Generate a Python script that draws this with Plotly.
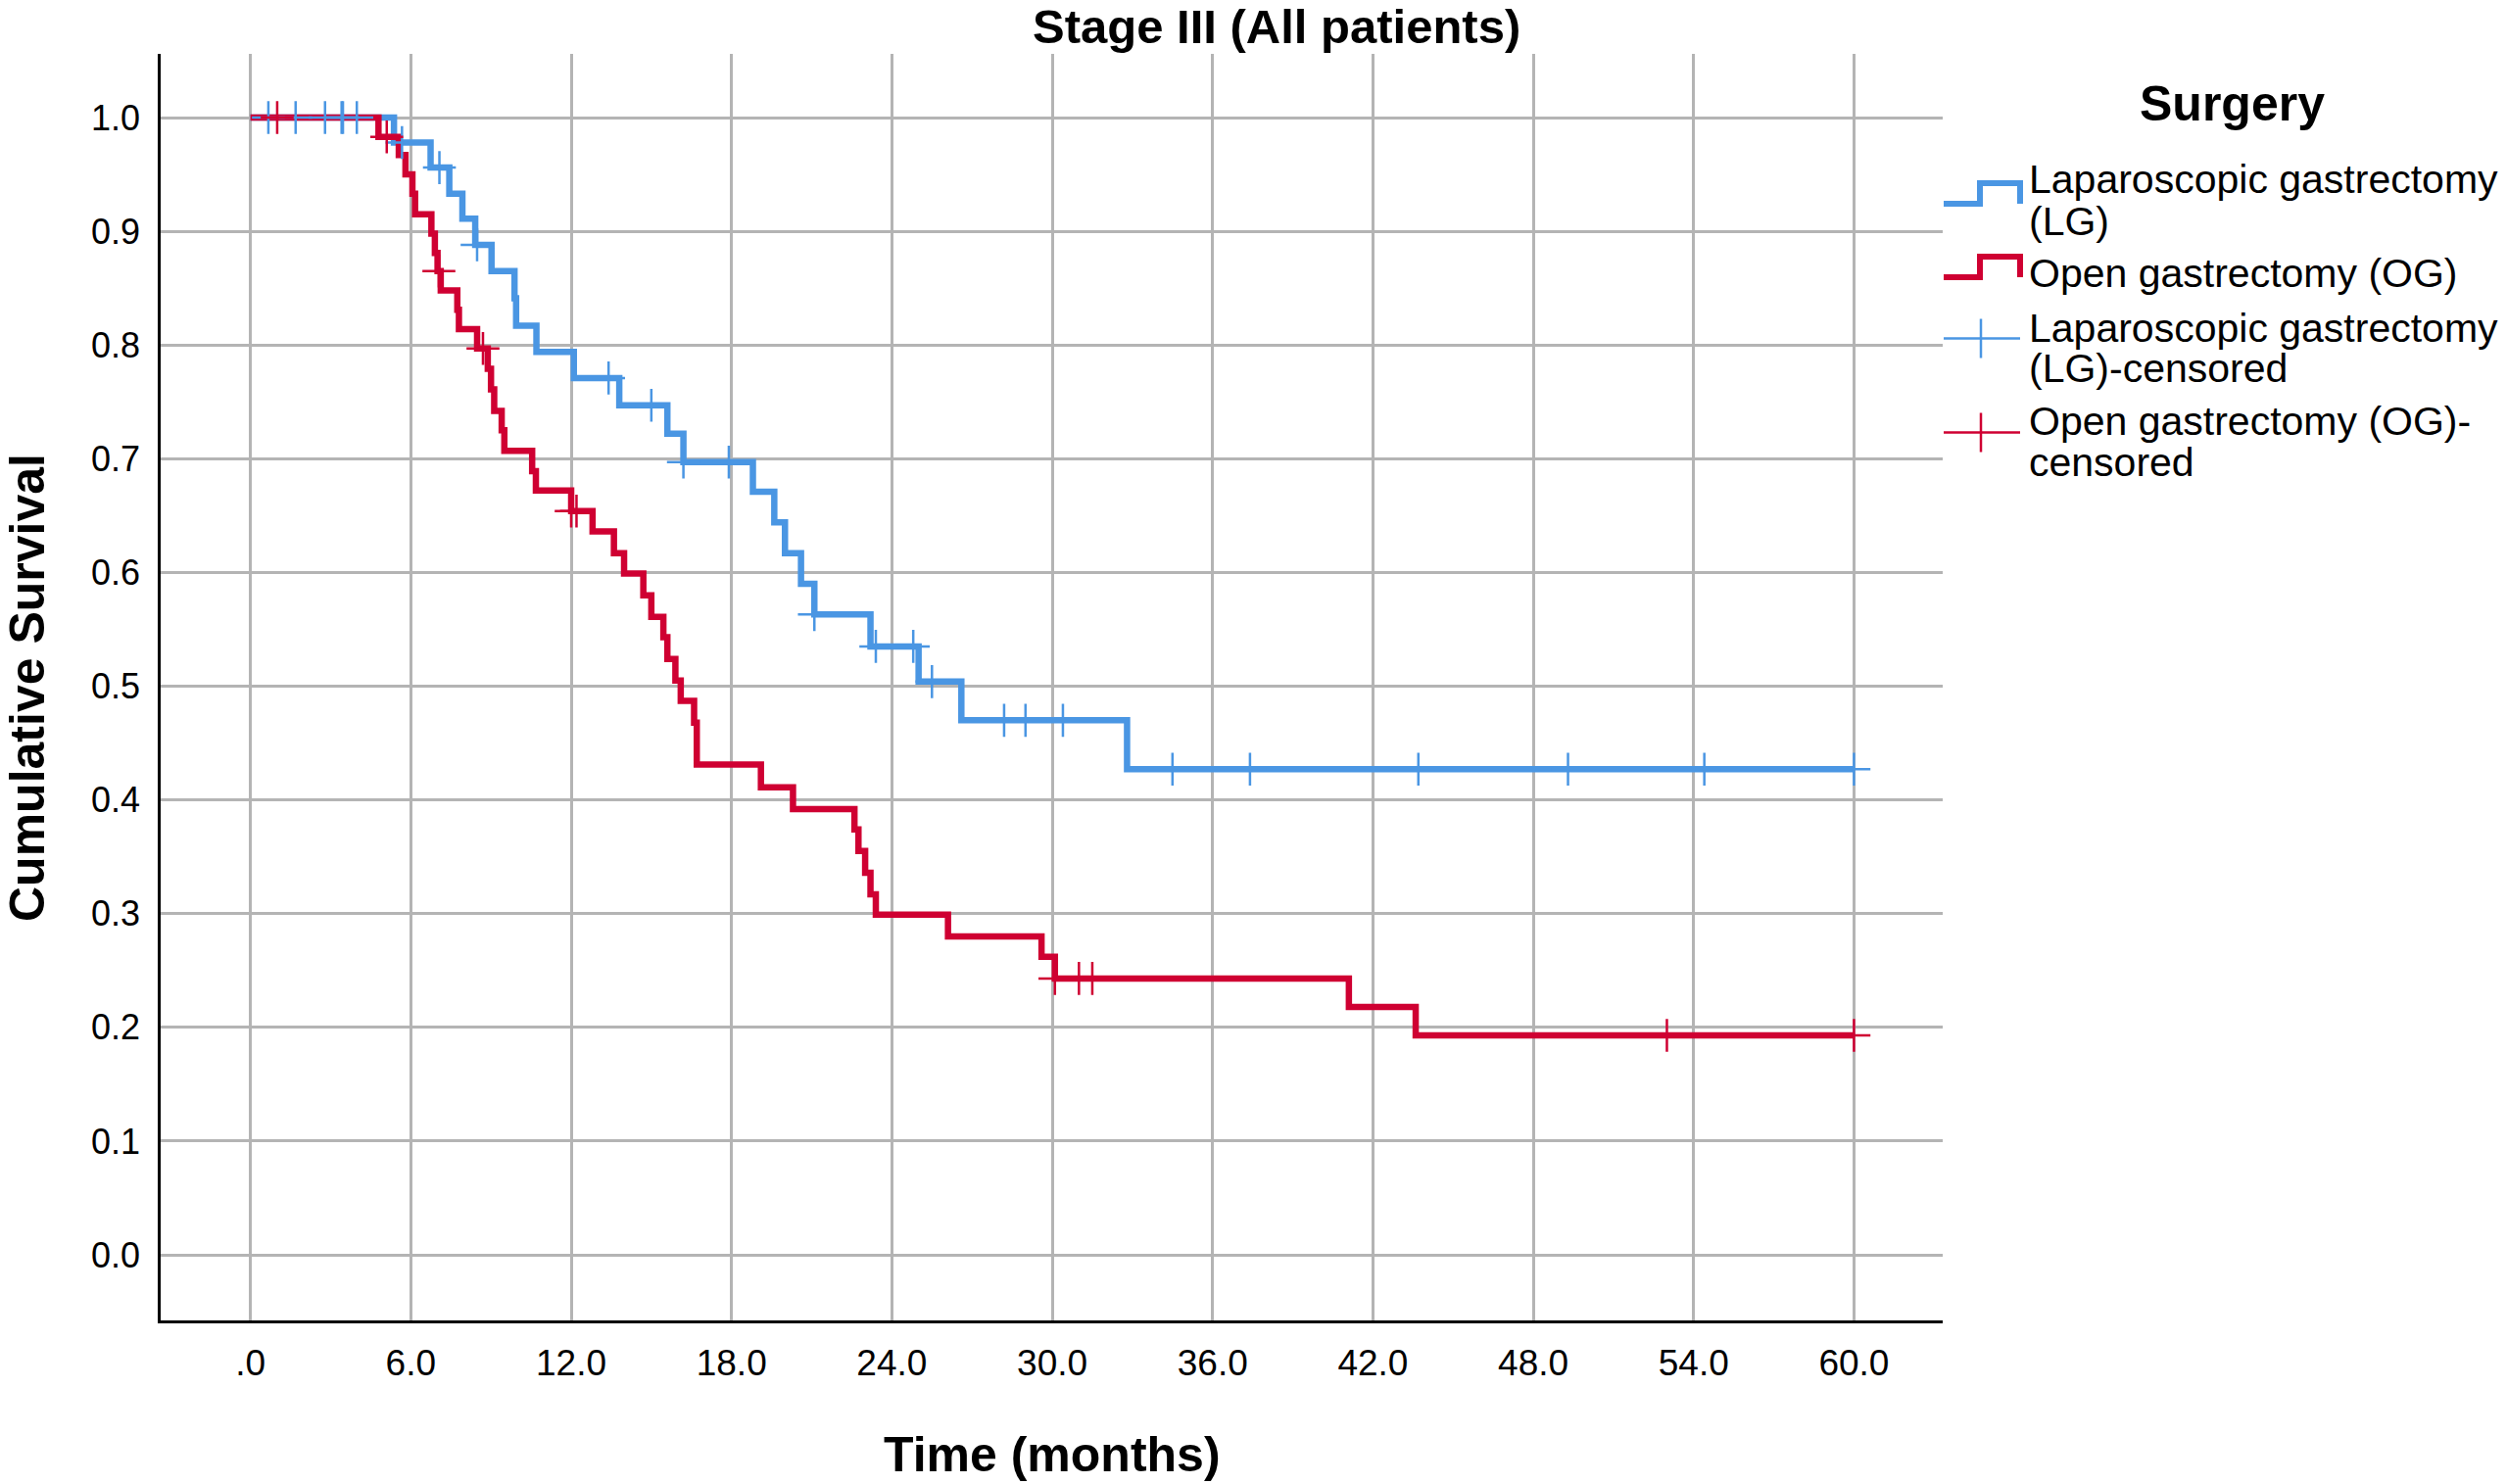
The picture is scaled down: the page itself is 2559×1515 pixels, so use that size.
import plotly.graph_objects as go

# ---------------- data ----------------
lg_time = [0.0, 5.37, 6.74, 7.44, 7.93, 8.41, 9.02, 9.88, 9.94, 10.7, 12.1, 13.8, 15.6, 16.2,
           18.8, 19.6, 20.0, 20.6, 21.1, 23.2, 25.0, 26.6, 32.8, 60.0]
lg_surv = [1.0, 0.978, 0.956, 0.933, 0.911, 0.888, 0.865, 0.841, 0.817, 0.794, 0.771, 0.747, 0.722, 0.697,
           0.671, 0.644, 0.617, 0.590, 0.563, 0.535, 0.504, 0.470, 0.427, 0.427]

og_time = [0.0, 4.79, 5.55, 5.80, 6.06, 6.16, 6.77, 6.90, 7.00, 7.12, 7.74, 7.80, 8.48, 8.88, 9.00,
           9.12, 9.40, 9.50, 10.54, 10.68, 12.0, 12.8, 13.6, 13.98, 14.7, 15.0, 15.45, 15.6, 15.9,
           16.1, 16.6, 16.7, 19.1, 20.3, 22.6, 22.75, 23.0, 23.2, 23.4, 26.1, 29.6, 30.1, 41.1, 43.6, 60.0]
og_surv = [1.0, 0.983, 0.967, 0.950, 0.933, 0.915, 0.898, 0.881, 0.865, 0.848, 0.831, 0.814, 0.797, 0.779, 0.761,
           0.742, 0.725, 0.707, 0.689, 0.672, 0.654, 0.636, 0.617, 0.599, 0.580, 0.561, 0.543, 0.524, 0.505,
           0.487, 0.468, 0.431, 0.411, 0.392, 0.374, 0.355, 0.336, 0.317, 0.299, 0.280, 0.262, 0.243, 0.218, 0.193, 0.193]

lg_cens_time = [0.67, 1.69, 2.79, 3.41, 3.46, 3.98, 5.67, 7.07, 8.48, 13.4, 15.0, 16.2, 17.9, 21.1,
                23.4, 24.8, 25.5, 28.2, 29.0, 30.4, 34.5, 37.4, 43.7, 49.3, 54.4, 60.0]
lg_cens_surv = [1.0, 1.0, 1.0, 1.0, 1.0, 1.0, 0.978, 0.956, 0.888, 0.771, 0.747, 0.697, 0.697, 0.563,
                0.535, 0.535, 0.504, 0.470, 0.470, 0.470, 0.427, 0.427, 0.427, 0.427, 0.427, 0.427]

og_cens_time = [1.0, 5.1, 7.05, 8.7, 12.0, 12.2, 30.1, 31.0, 31.5, 53.0, 60.0]
og_cens_surv = [1.0, 0.983, 0.865, 0.797, 0.654, 0.654, 0.243, 0.243, 0.243, 0.193, 0.193]

x_tickvals = [0, 6, 12, 18, 24, 30, 36, 42, 48, 54, 60]
x_ticktext = [".0", "6.0", "12.0", "18.0", "24.0", "30.0", "36.0", "42.0", "48.0", "54.0", "60.0"]
y_tickvals = [0.0, 0.1, 0.2, 0.3, 0.4, 0.5, 0.6, 0.7, 0.8, 0.9, 1.0]
y_ticktext = ["0.0", "0.1", "0.2", "0.3", "0.4", "0.5", "0.6", "0.7", "0.8", "0.9", "1.0"]

series_names = ["Laparoscopic gastrectomy (LG)", "Open gastrectomy (OG)"]

# ---------------- style ----------------
BLUE = "#4a96e3"
RED = "#cf0032"
GRID = "#b4b4b4"
FONT = "Liberation Sans, Arial, sans-serif"

W, H = 2559, 1515
ML, MR, MT, MB = 164, 576, 55, 167
PW = W - ML - MR
PH = H - MT - MB


def px(xp):
    return (xp - ML) / PW


def py(yp):
    return (H - MB - yp) / PH


fig = go.Figure()

fig.add_trace(go.Scatter(x=lg_time, y=lg_surv, mode="lines", line=dict(color=BLUE, width=6.5, shape="hv"),
                         name=series_names[0], showlegend=False))
fig.add_trace(go.Scatter(x=og_time, y=og_surv, mode="lines", line=dict(color=RED, width=6.5, shape="hv"),
                         name=series_names[1], showlegend=False))
fig.add_trace(go.Scatter(x=lg_cens_time, y=lg_cens_surv, mode="markers",
                         marker=dict(symbol="cross-thin", size=24, line=dict(color=BLUE, width=2.5)),
                         name=series_names[0] + "-censored", showlegend=False))
fig.add_trace(go.Scatter(x=og_cens_time, y=og_cens_surv, mode="markers",
                         marker=dict(symbol="cross-thin", size=24, line=dict(color=RED, width=2.5)),
                         name=series_names[1] + "-censored", showlegend=False))

annotations = []
shapes = []

# title and axis titles
annotations.append(dict(text="<b>Stage III (All patients)</b>", x=px(1303), y=py(27), xref="paper", yref="paper",
                        xanchor="center", yanchor="middle", showarrow=False, font=dict(size=49, color="black")))
annotations.append(dict(text="<b>Time (months)</b>", x=px(1074), y=py(1485), xref="paper", yref="paper",
                        xanchor="center", yanchor="middle", showarrow=False, font=dict(size=50, color="black")))
annotations.append(dict(text="<b>Cumulative Survival</b>", x=px(28), y=py(702), xref="paper", yref="paper",
                        xanchor="center", yanchor="middle", textangle=-90, showarrow=False,
                        font=dict(size=50, color="black")))

# custom legend
annotations.append(dict(text="<b>Surgery</b>", x=px(2278), y=py(106), xref="paper", yref="paper",
                        xanchor="center", yanchor="middle", showarrow=False, font=dict(size=50, color="black")))
legend_lines = [
    ("Laparoscopic gastrectomy", 183), ("(LG)", 226),
    ("Open gastrectomy (OG)", 279),
    ("Laparoscopic gastrectomy", 335), ("(LG)-censored", 376),
    ("Open gastrectomy (OG)-", 430), ("censored", 472),
]
for txt, yy in legend_lines:
    annotations.append(dict(text=txt, x=px(2069), y=py(yy), xref="paper", yref="paper",
                            xanchor="left", yanchor="middle", showarrow=False,
                            font=dict(size=41, color="black")))


def step_icon(y_low, y_high, color):
    path = "M {:.5f} {:.5f} L {:.5f} {:.5f} L {:.5f} {:.5f} L {:.5f} {:.5f} L {:.5f} {:.5f}".format(
        px(1984), py(y_low), px(2021), py(y_low), px(2021), py(y_high), px(2062), py(y_high),
        px(2062), py(y_low))
    return dict(type="path", path=path, xref="paper", yref="paper", line=dict(color=color, width=6))


def cross_icon(yc, color):
    return [dict(type="line", xref="paper", yref="paper", x0=px(1984), x1=px(2062), y0=py(yc), y1=py(yc),
                 line=dict(color=color, width=2.5)),
            dict(type="line", xref="paper", yref="paper", x0=px(2022), x1=px(2022), y0=py(yc - 20),
                 y1=py(yc + 20), line=dict(color=color, width=2.5))]


shapes.append(step_icon(208, 187, BLUE))
shapes.append(step_icon(283, 262, RED))
shapes += cross_icon(345.5, BLUE)
shapes += cross_icon(441.5, RED)

fig.update_layout(
    width=W, height=H,
    margin=dict(l=ML, r=MR, t=MT, b=MB, autoexpand=False),
    paper_bgcolor="white", plot_bgcolor="white",
    font=dict(family=FONT, color="black"),
    showlegend=False,
    annotations=annotations,
    shapes=shapes,
    xaxis=dict(range=[-3.36, 63.32], tickvals=x_tickvals, ticktext=x_ticktext,
               showgrid=True, gridcolor=GRID, gridwidth=2.5, zeroline=False,
               showline=True, linecolor="black", linewidth=2.5, mirror=False,
               ticks="outside", ticklen=9, tickcolor="rgba(0,0,0,0)",
               tickfont=dict(size=37, color="black"), fixedrange=True),
    yaxis=dict(range=[-0.0577, 1.056], tickvals=y_tickvals, ticktext=y_ticktext,
               showgrid=True, gridcolor=GRID, gridwidth=2.5, zeroline=False,
               showline=True, linecolor="black", linewidth=2.5, mirror=False,
               ticks="outside", ticklen=11, tickcolor="rgba(0,0,0,0)",
               tickfont=dict(size=36, color="black"), fixedrange=True),
)

fig.write_html("out.html", config={"displayModeBar": False},
               post_script="document.body.style.margin='0px';document.body.style.overflow='hidden';")
